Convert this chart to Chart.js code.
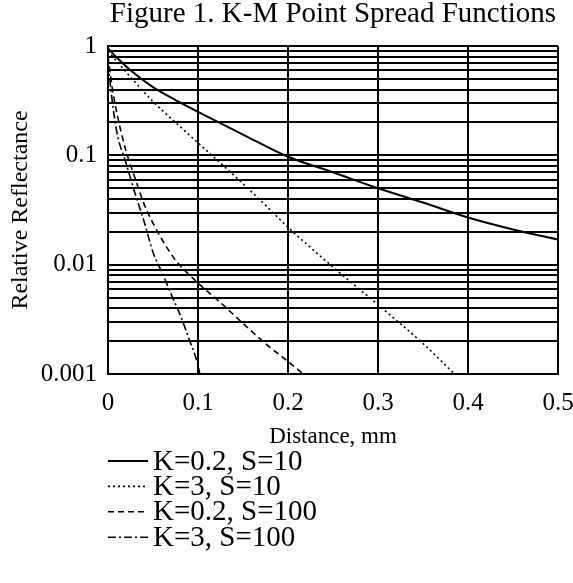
<!DOCTYPE html>
<html><head><meta charset="utf-8">
<script src="https://cdn.jsdelivr.net/npm/chart.js@4.4.1/dist/chart.umd.min.js"></script>
<style>html,body{margin:0;padding:0;background:#fff;}</style>
</head><body>
<canvas id="c" width="573" height="583"></canvas>
<script>
const titleText = 'Figure 1. K-M Point Spread Functions';
const xTitle = 'Distance, mm';
const yTitle = 'Relative Reflectance';
const xTickValues = [0, 0.1, 0.2, 0.3, 0.4, 0.5];
const xTickLabels = ['0', '0.1', '0.2', '0.3', '0.4', '0.5'];
const yMajorTicks = [0.001, 0.01, 0.1, 1];
const yTickLabels = ['0.001', '0.01', '0.1', '1'];
const seriesLabels = ['K=0.2, S=10', 'K=3, S=10', 'K=0.2, S=100', 'K=3, S=100'];

// K=0.2, S=10 (solid)
const s1X = [0, 0.01, 0.025, 0.05, 0.075, 0.1, 0.15, 0.2, 0.25, 0.3, 0.35, 0.4, 0.45, 0.5];
const s1Y = [0.95, 0.78, 0.6, 0.42, 0.32, 0.25, 0.155, 0.097, 0.07, 0.05, 0.037, 0.027, 0.021, 0.017];
// K=3, S=10 (dotted)
const s2X = [0, 0.01, 0.025, 0.05, 0.075, 0.1, 0.125, 0.15, 0.175, 0.2, 0.25, 0.3, 0.35, 0.385];
const s2Y = [0.9, 0.72, 0.52, 0.31, 0.2, 0.13, 0.085, 0.055, 0.035, 0.022, 0.0095, 0.0043, 0.0019, 0.001];
// K=0.2, S=100 (dashed)
const s3X = [0, 0.005, 0.01, 0.02, 0.03, 0.04, 0.05, 0.06, 0.075, 0.1, 0.125, 0.15, 0.175, 0.2, 0.217];
const s3Y = [0.8, 0.4, 0.24, 0.11, 0.062, 0.036, 0.024, 0.017, 0.011, 0.0068, 0.0045, 0.0029, 0.0019, 0.0013, 0.001];
// K=3, S=100 (dash-dot)
const s4X = [0, 0.005, 0.01, 0.02, 0.03, 0.04, 0.05, 0.06, 0.07, 0.08, 0.09, 0.1, 0.102];
const s4Y = [0.7, 0.3, 0.16, 0.085, 0.045, 0.025, 0.013, 0.0085, 0.0054, 0.0035, 0.0021, 0.0012, 0.001];

const seriesX = [s1X, s2X, s3X, s4X];
const seriesY = [s1Y, s2Y, s3Y, s4Y];
const dashes = [[], [2, 3], [6, 4], [8, 3, 2, 3]];
const widths = [2, 1.6, 1.6, 1.6];

const serif = "'Liberation Serif', 'DejaVu Serif', serif";

// minor log gridline positions built from the major decades
const yGridValues = [];
for (let i = 0; i < yMajorTicks.length - 1; i++) {
  for (let k = 1; k <= 9; k++) yGridValues.push(+(k * yMajorTicks[i]).toPrecision(6));
}
yGridValues.push(yMajorTicks[yMajorTicks.length - 1]);

const datasets = seriesLabels.map((lab, i) => ({
  label: lab,
  data: seriesX[i].map((x, j) => ({x: x, y: seriesY[i][j]})),
  borderColor: '#000',
  backgroundColor: '#000',
  borderWidth: widths[i],
  borderDash: dashes[i],
  pointRadius: 0,
  fill: false,
  cubicInterpolationMode: 'monotone'
}));

const bgPlugin = {
  id: 'bg',
  beforeDraw(chart) {
    const ctx = chart.ctx;
    ctx.save(); ctx.fillStyle = '#fff'; ctx.fillRect(0, 0, chart.width, chart.height); ctx.restore();
  }
};

const legendPlugin = {
  id: 'vlegend',
  afterDraw(chart) {
    const ctx = chart.ctx;
    ctx.save();
    chart.data.datasets.forEach((ds, i) => {
      const y = 461 + i * 25.4;
      ctx.beginPath();
      ctx.strokeStyle = '#000';
      ctx.lineWidth = ds.borderWidth;
      ctx.setLineDash(ds.borderDash || []);
      ctx.moveTo(108, y); ctx.lineTo(148, y);
      ctx.stroke();
      ctx.setLineDash([]);
      ctx.fillStyle = '#000';
      ctx.font = '29px ' + serif;
      ctx.textBaseline = 'middle';
      ctx.textAlign = 'left';
      ctx.fillText(ds.label, 153, y + 1);
    });
    ctx.restore();
  }
};

new Chart(document.getElementById('c'), {
  type: 'line',
  data: {datasets: datasets},
  options: {
    responsive: false,
    animation: false,
    devicePixelRatio: 1,
    layout: {padding: {top: 0, right: 0, bottom: 129, left: 0}},
    plugins: {
      legend: {display: false},
      tooltip: {enabled: false},
      title: {
        display: true, text: titleText, color: '#000', fullSize: false,
        font: {family: serif, size: 29, weight: 'normal', lineHeight: 1},
        padding: {top: 0, bottom: 17}
      }
    },
    scales: {
      x: {
        type: 'linear', min: 0, max: 0.5,
        afterBuildTicks(s) { s.ticks = xTickValues.map(v => ({value: v})); },
        afterFit(s) { s.height = 80; s.paddingRight = 15; },
        ticks: {
          autoSkip: false, maxRotation: 0, padding: 14, color: '#000',
          font: {family: serif, size: 25},
          callback: (v, i) => xTickLabels[i]
        },
        grid: {color: '#000', lineWidth: 2, drawTicks: false},
        border: {color: '#000', width: 2},
        title: {display: true, text: xTitle, color: '#000', font: {family: serif, size: 23}, padding: {top: 0, bottom: 3}}
      },
      y: {
        type: 'logarithmic', min: 0.001, max: 1,
        afterBuildTicks(s) { s.ticks = yGridValues.map(v => ({value: v})); },
        afterFit(s) { s.width = 108; },
        ticks: {
          autoSkip: false, padding: 11, color: '#000',
          font: {family: serif, size: 25},
          callback: (v) => {
            const idx = yMajorTicks.findIndex(m => Math.abs(m - v) / m < 1e-6);
            return idx >= 0 ? yTickLabels[idx] : '';
          }
        },
        grid: {color: '#000', lineWidth: 2, drawTicks: false},
        border: {color: '#000', width: 2},
        title: {display: true, text: yTitle, color: '#000', font: {family: serif, size: 24}, padding: {top: 6, bottom: 0}}
      }
    }
  },
  plugins: [bgPlugin, legendPlugin]
});
</script>
</body></html>
